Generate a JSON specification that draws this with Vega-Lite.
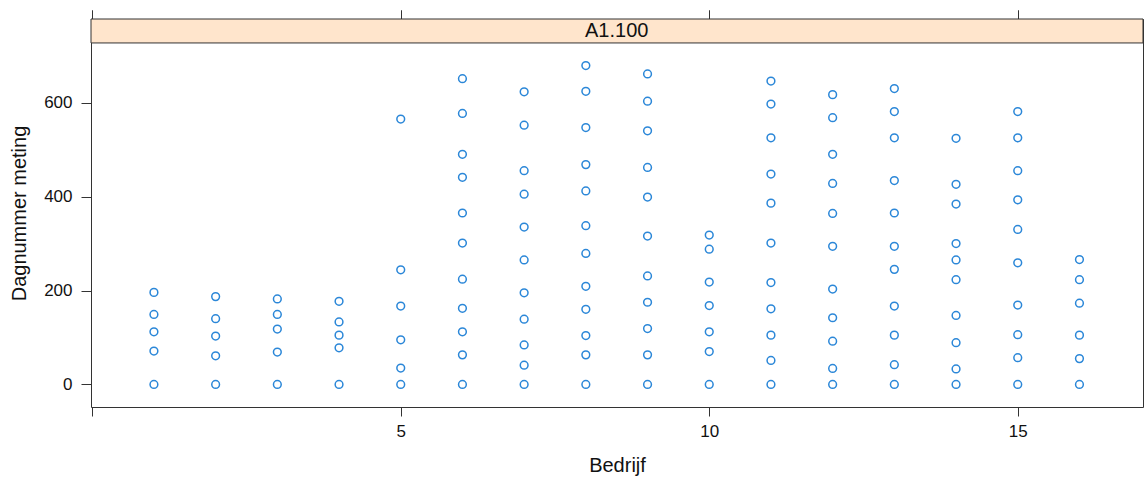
{
  "$schema": "https://vega.github.io/schema/vega-lite/v6.json",
  "width": 1052,
  "height": 388,
  "autosize": {"type": "none"},
  "padding": {"left": 91, "top": 19, "right": 1, "bottom": 73},
  "background": "white",
  "config": {
    "font": "Liberation Sans",
    "view": {"stroke": "#333333", "strokeWidth": 1},
    "axis": {
      "domain": false,
      "grid": false,
      "tickColor": "#333333",
      "tickWidth": 1,
      "labelColor": "#111111",
      "labelFont": "Liberation Sans",
      "labelFontSize": 17,
      "titleFont": "Liberation Sans",
      "titleFontSize": 20,
      "titleFontWeight": "normal",
      "titleColor": "#111111"
    }
  },
  "layer": [
    {
      "data": {"values": [{"panel": "A1.100"}]},
      "mark": {"type": "rect", "fill": "#ffe5cc", "stroke": "#333333", "strokeWidth": 1},
      "encoding": {
        "x": {"datum": -0.02, "type": "quantitative", "scale": {"domain": [-0.02, 17.03], "nice": false, "zero": false},
              "axis": {"orient": "top", "values": [0, 5, 10, 15], "labels": false, "tickSize": 9, "title": null}},
        "x2": {"datum": 17.03},
        "y": {"datum": 727, "type": "quantitative", "scale": {"domain": [-48, 778], "nice": false, "zero": false},
              "axis": {"orient": "left", "values": [0, 200, 400, 600], "tickSize": 10, "labelPadding": 9, "title": "Dagnummer meting", "titlePadding": 14}},
        "y2": {"datum": 778}
      }
    },
    {
      "data": {"values": [{"panel": "A1.100"}]},
      "mark": {"type": "text", "font": "Liberation Sans", "fontSize": 20, "color": "#111111", "baseline": "middle", "align": "center"},
      "encoding": {
        "x": {"datum": 8.5, "type": "quantitative",
              "axis": {"orient": "top", "values": [0, 5, 10, 15], "labels": false, "tickSize": 9, "title": null}},
        "y": {"datum": 752.5, "type": "quantitative",
              "axis": {"orient": "left", "values": [0, 200, 400, 600], "tickSize": 10, "labelPadding": 9, "title": "Dagnummer meting", "titlePadding": 14}},
        "text": {"field": "panel"}
      }
    },
    {
      "data": {"values": [
        {"Bedrijf": 1, "dag": 0}, {"Bedrijf": 1, "dag": 71}, {"Bedrijf": 1, "dag": 112}, {"Bedrijf": 1, "dag": 149}, {"Bedrijf": 1, "dag": 196},
        {"Bedrijf": 2, "dag": 0}, {"Bedrijf": 2, "dag": 61}, {"Bedrijf": 2, "dag": 103}, {"Bedrijf": 2, "dag": 140}, {"Bedrijf": 2, "dag": 187},
        {"Bedrijf": 3, "dag": 0}, {"Bedrijf": 3, "dag": 69}, {"Bedrijf": 3, "dag": 118}, {"Bedrijf": 3, "dag": 149}, {"Bedrijf": 3, "dag": 182},
        {"Bedrijf": 4, "dag": 0}, {"Bedrijf": 4, "dag": 78}, {"Bedrijf": 4, "dag": 105}, {"Bedrijf": 4, "dag": 133}, {"Bedrijf": 4, "dag": 177},
        {"Bedrijf": 5, "dag": 0}, {"Bedrijf": 5, "dag": 35}, {"Bedrijf": 5, "dag": 95}, {"Bedrijf": 5, "dag": 167}, {"Bedrijf": 5, "dag": 244}, {"Bedrijf": 5, "dag": 565},
        {"Bedrijf": 6, "dag": 0}, {"Bedrijf": 6, "dag": 63}, {"Bedrijf": 6, "dag": 112}, {"Bedrijf": 6, "dag": 162}, {"Bedrijf": 6, "dag": 224}, {"Bedrijf": 6, "dag": 301}, {"Bedrijf": 6, "dag": 365}, {"Bedrijf": 6, "dag": 441}, {"Bedrijf": 6, "dag": 490}, {"Bedrijf": 6, "dag": 577}, {"Bedrijf": 6, "dag": 651},
        {"Bedrijf": 7, "dag": 0}, {"Bedrijf": 7, "dag": 41}, {"Bedrijf": 7, "dag": 84}, {"Bedrijf": 7, "dag": 139}, {"Bedrijf": 7, "dag": 195}, {"Bedrijf": 7, "dag": 265}, {"Bedrijf": 7, "dag": 335}, {"Bedrijf": 7, "dag": 405}, {"Bedrijf": 7, "dag": 455}, {"Bedrijf": 7, "dag": 552}, {"Bedrijf": 7, "dag": 623},
        {"Bedrijf": 8, "dag": 0}, {"Bedrijf": 8, "dag": 63}, {"Bedrijf": 8, "dag": 104}, {"Bedrijf": 8, "dag": 160}, {"Bedrijf": 8, "dag": 209}, {"Bedrijf": 8, "dag": 279}, {"Bedrijf": 8, "dag": 338}, {"Bedrijf": 8, "dag": 412}, {"Bedrijf": 8, "dag": 468}, {"Bedrijf": 8, "dag": 547}, {"Bedrijf": 8, "dag": 624}, {"Bedrijf": 8, "dag": 679},
        {"Bedrijf": 9, "dag": 0}, {"Bedrijf": 9, "dag": 63}, {"Bedrijf": 9, "dag": 119}, {"Bedrijf": 9, "dag": 175}, {"Bedrijf": 9, "dag": 231}, {"Bedrijf": 9, "dag": 316}, {"Bedrijf": 9, "dag": 399}, {"Bedrijf": 9, "dag": 462}, {"Bedrijf": 9, "dag": 540}, {"Bedrijf": 9, "dag": 603}, {"Bedrijf": 9, "dag": 661},
        {"Bedrijf": 10, "dag": 0}, {"Bedrijf": 10, "dag": 70}, {"Bedrijf": 10, "dag": 112}, {"Bedrijf": 10, "dag": 168}, {"Bedrijf": 10, "dag": 218}, {"Bedrijf": 10, "dag": 288}, {"Bedrijf": 10, "dag": 318},
        {"Bedrijf": 11, "dag": 0}, {"Bedrijf": 11, "dag": 51}, {"Bedrijf": 11, "dag": 105}, {"Bedrijf": 11, "dag": 161}, {"Bedrijf": 11, "dag": 217}, {"Bedrijf": 11, "dag": 301}, {"Bedrijf": 11, "dag": 386}, {"Bedrijf": 11, "dag": 448}, {"Bedrijf": 11, "dag": 525}, {"Bedrijf": 11, "dag": 597}, {"Bedrijf": 11, "dag": 646},
        {"Bedrijf": 12, "dag": 0}, {"Bedrijf": 12, "dag": 34}, {"Bedrijf": 12, "dag": 92}, {"Bedrijf": 12, "dag": 142}, {"Bedrijf": 12, "dag": 203}, {"Bedrijf": 12, "dag": 294}, {"Bedrijf": 12, "dag": 364}, {"Bedrijf": 12, "dag": 428}, {"Bedrijf": 12, "dag": 490}, {"Bedrijf": 12, "dag": 568}, {"Bedrijf": 12, "dag": 617},
        {"Bedrijf": 13, "dag": 0}, {"Bedrijf": 13, "dag": 42}, {"Bedrijf": 13, "dag": 105}, {"Bedrijf": 13, "dag": 167}, {"Bedrijf": 13, "dag": 245}, {"Bedrijf": 13, "dag": 294}, {"Bedrijf": 13, "dag": 365}, {"Bedrijf": 13, "dag": 434}, {"Bedrijf": 13, "dag": 525}, {"Bedrijf": 13, "dag": 581}, {"Bedrijf": 13, "dag": 630},
        {"Bedrijf": 14, "dag": 0}, {"Bedrijf": 14, "dag": 33}, {"Bedrijf": 14, "dag": 89}, {"Bedrijf": 14, "dag": 147}, {"Bedrijf": 14, "dag": 223}, {"Bedrijf": 14, "dag": 265}, {"Bedrijf": 14, "dag": 300}, {"Bedrijf": 14, "dag": 384}, {"Bedrijf": 14, "dag": 426}, {"Bedrijf": 14, "dag": 524},
        {"Bedrijf": 15, "dag": 0}, {"Bedrijf": 15, "dag": 57}, {"Bedrijf": 15, "dag": 106}, {"Bedrijf": 15, "dag": 169}, {"Bedrijf": 15, "dag": 259}, {"Bedrijf": 15, "dag": 330}, {"Bedrijf": 15, "dag": 393}, {"Bedrijf": 15, "dag": 455}, {"Bedrijf": 15, "dag": 525}, {"Bedrijf": 15, "dag": 581},
        {"Bedrijf": 16, "dag": 0}, {"Bedrijf": 16, "dag": 55}, {"Bedrijf": 16, "dag": 105}, {"Bedrijf": 16, "dag": 173}, {"Bedrijf": 16, "dag": 223}, {"Bedrijf": 16, "dag": 266}
      ]},
      "mark": {"type": "point", "shape": "circle", "filled": false, "color": "#2b87d8", "size": 60, "strokeWidth": 1.5, "opacity": 1},
      "encoding": {
        "x": {"field": "Bedrijf", "type": "quantitative", "scale": {"domain": [-0.02, 17.03], "nice": false, "zero": false},
              "axis": {"orient": "bottom", "values": [0, 5, 10, 15], "labelExpr": "datum.value == 0 ? '' : datum.label", "tickSize": 9, "labelPadding": 7, "title": "Bedrijf", "titlePadding": 16}},
        "y": {"field": "dag", "type": "quantitative", "scale": {"domain": [-48, 778], "nice": false, "zero": false},
              "axis": {"orient": "left", "values": [0, 200, 400, 600], "tickSize": 10, "labelPadding": 9, "title": "Dagnummer meting", "titlePadding": 14}}
      }
    }
  ]
}
